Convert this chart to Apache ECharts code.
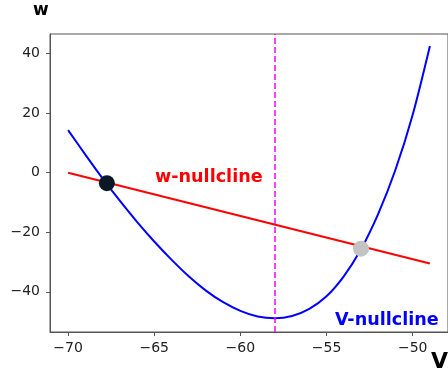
<!DOCTYPE html>
<html lang="en">
<head>
    <meta charset="UTF-8">
    <title>nullclines</title>
    <script src="https://cdn.jsdelivr.net/npm/echarts@6/dist/echarts.min.js"></script>
</head>
<body style="margin:0">
<div id="main" style="width: 448px;height:376px;"></div>
<script type="text/javascript">
    var vPts = [-70, -69, -68, -67, -66, -65, -64, -63, -62, -61, -60, -59, -58, -57, -56, -55, -54, -53, -52, -51, -50, -49];
    var vNull = [14.3, 6.1, -1.9, -9.4, -16.5, -23.1, -29.2, -34.8, -39.6, -43.5, -46.4, -48.3, -48.9, -48.1, -45.7, -41.5, -34.8, -25.7, -13.8, 1.0, 19.5, 42.6];
    var wLineV = [-70, -49];
    var wLineW = [0, -30.5];
    var fixedPts = [[-67.75, -3.5], [-53.0, -25.5]];
    var fixedColors = ['#0b1826', '#c3c3c3'];
    var vRest = -58;
    var xTicks = [-70, -65, -60, -55, -50];
    var yTicks = [-40, -20, 0, 20, 40];

    var myChart = echarts.init(document.getElementById('main'));

    function minus(v) {
        return String(v).replace('-', '\u2212');
    }

    var blueData = [];
    for (var i = 0; i < vPts.length; i++) {
        blueData.push([vPts[i], vNull[i]]);
    }
    var redData = [];
    for (var j = 0; j < wLineV.length; j++) {
        redData.push([wLineV[j], wLineW[j]]);
    }

    var axisColor = '#555';
    var labelStyle = { color: '#222', fontSize: 14, fontFamily: 'DejaVu Sans' };

    var option = {
        backgroundColor: '#fff',
        animation: false,
        grid: {
            show: true,
            left: 50, top: 34, right: -2, bottom: 44,
            borderColor: axisColor, borderWidth: 1
        },
        xAxis: {
            type: 'value', min: -71.05, max: -47.95,
            axisLine: { show: true, onZero: false, lineStyle: { color: axisColor } },
            axisTick: { show: true, length: 4, customValues: xTicks, lineStyle: { color: axisColor } },
            axisLabel: Object.assign({ customValues: xTicks, margin: 9, formatter: minus }, labelStyle),
            splitLine: { show: false }
        },
        yAxis: {
            type: 'value', min: -53.5, max: 46.6,
            axisLine: { show: true, onZero: false, lineStyle: { color: axisColor } },
            axisTick: { show: true, length: 4, customValues: yTicks, lineStyle: { color: axisColor } },
            axisLabel: Object.assign({ customValues: yTicks, margin: 10, formatter: minus }, labelStyle),
            splitLine: { show: false }
        },
        graphic: [
            { type: 'text', left: 33, top: 2, style: { text: 'w', font: 'bold 17px DejaVu Sans', fill: '#000' } },
            { type: 'text', left: 431, top: 351, style: { text: 'V', font: 'bold 22px DejaVu Sans', fill: '#000' } },
            { type: 'text', left: 155, top: 168, style: { text: 'w-nullcline', font: 'bold 17.6px DejaVu Sans', fill: '#ff0000' } },
            { type: 'text', left: 335, top: 311, style: { text: 'V-nullcline', font: 'bold 17.6px DejaVu Sans', fill: '#0000ff' } }
        ],
        series: [{
            type: 'line',
            data: blueData,
            smooth: 0.3,
            showSymbol: false,
            lineStyle: { color: '#0000ff', width: 2 },
            z: 2
        }, {
            type: 'line',
            data: redData,
            showSymbol: false,
            lineStyle: { color: '#ff0000', width: 2 },
            z: 3,
            markLine: {
                silent: true,
                symbol: 'none',
                label: { show: false },
                lineStyle: { color: '#ff00ff', width: 1.5, type: [6, 3] },
                data: [{ xAxis: vRest }]
            }
        }, {
            type: 'scatter',
            symbolSize: 16,
            data: fixedPts.map(function (p, k) {
                return { value: p, itemStyle: { color: fixedColors[k], opacity: 1 } };
            }),
            z: 5
        }]
    };

    myChart.setOption(option);
</script>
</body>
</html>
